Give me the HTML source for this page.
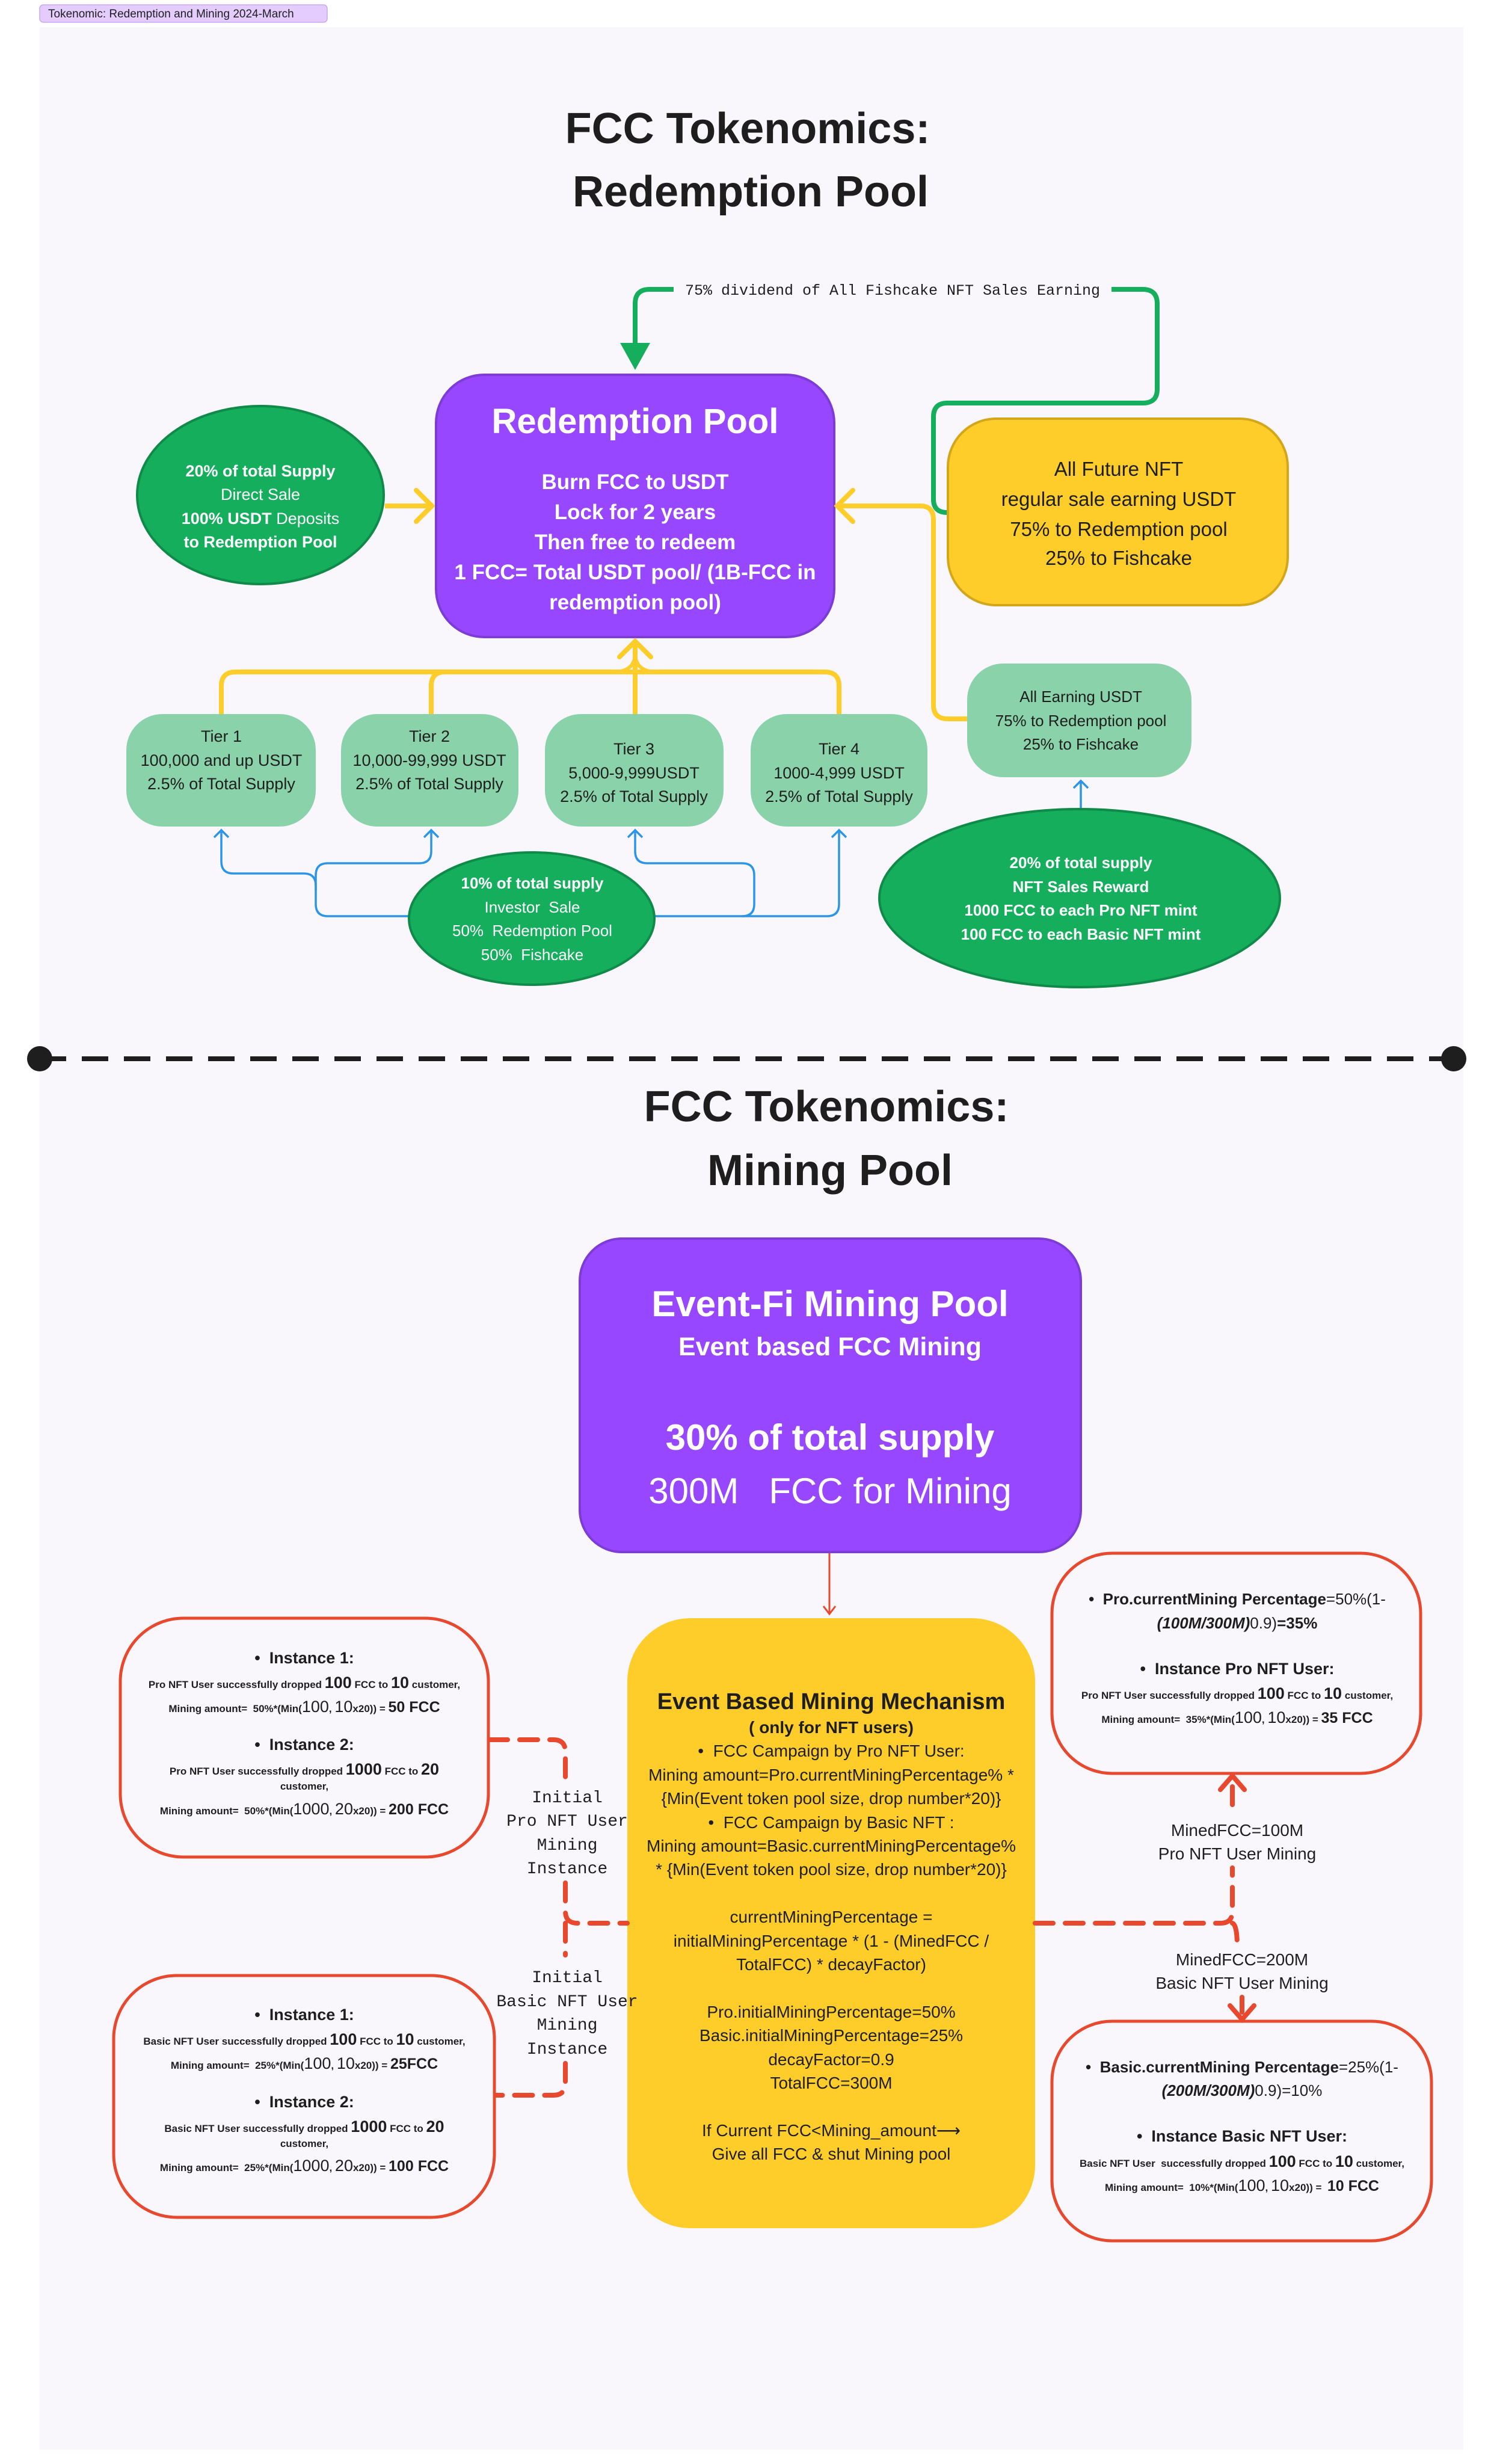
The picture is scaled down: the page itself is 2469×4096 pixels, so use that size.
<!DOCTYPE html>
<html><head><meta charset="utf-8"><style>
html,body{margin:0;padding:0;background:#fff;}
svg{display:block}
text{font-family:"Liberation Sans",sans-serif;}
.m{font-family:"Liberation Mono",monospace;}
</style></head><body>
<svg width="2469" height="4096" viewBox="0 0 2469 4096" xmlns="http://www.w3.org/2000/svg">
<defs>
<marker id="ab" markerWidth="10" markerHeight="10" refX="5" refY="1" orient="auto-start-reverse" markerUnits="userSpaceOnUse"></marker>
</defs>
<!-- tag -->
<rect x="66" y="8" width="478" height="29" rx="6" fill="#e4ccff" stroke="#c9a8f5" stroke-width="1.5"/>
<text x="80" y="29" font-size="19" fill="#1e1e1e">Tokenomic: Redemption and Mining 2024-March</text>
<!-- panel -->
<rect x="66" y="45" width="2367" height="4027" fill="#f9f7fc"/>

<!-- Title 1 -->
<text x="1243" y="238" font-size="72" font-weight="bold" text-anchor="middle" fill="#1e1e1e">FCC Tokenomics:</text>
<text x="1248" y="343" font-size="72" font-weight="bold" text-anchor="middle" fill="#1e1e1e">Redemption Pool</text>

<!-- green top loop -->
<path d="M1056 590 V505 Q1056 481 1080 481 H1900 Q1924 481 1924 505 V647 Q1924 670 1900 670 H1575 Q1552 670 1552 693 V830 Q1552 852 1575 852" fill="none" stroke="#14ae5c" stroke-width="8"/>
<polygon points="1031,570 1081,570 1056,615" fill="#14ae5c"/>
<rect x="1120" y="463" width="728" height="36" fill="#f9f7fc"/>
<text class="m" x="1484" y="490" font-size="25" text-anchor="middle" fill="#1e1e1e">75% dividend of All Fishcake NFT Sales Earning</text>

<!-- Redemption pool box -->
<rect x="725" y="623" width="662" height="436" rx="80" fill="#9747ff" stroke="#7d3cd6" stroke-width="4"/>
<text x="1056" y="720" font-size="58" font-weight="bold" text-anchor="middle" fill="#fff">Redemption Pool</text>
<g font-size="35" font-weight="bold" text-anchor="middle" fill="#fff">
<text x="1056" y="813">Burn FCC to USDT</text>
<text x="1056" y="863">Lock for 2 years</text>
<text x="1056" y="913">Then free to redeem</text>
<text x="1056" y="963">1 FCC= Total USDT pool/ (1B-FCC in</text>
<text x="1056" y="1013">redemption pool)</text>
</g>

<!-- left green ellipse -->
<ellipse cx="433" cy="823" rx="205" ry="148" fill="#14ae5c" stroke="#0f8a48" stroke-width="4"/>
<g font-size="27" text-anchor="middle" fill="#fff">
<text x="433" y="792" font-weight="bold">20% of total Supply</text>
<text x="433" y="831">Direct Sale</text>
<text x="433" y="871"><tspan font-weight="bold">100% USDT</tspan> Deposits</text>
<text x="433" y="910" font-weight="bold">to Redemption Pool</text>
</g>
<!-- yellow arrow left -->
<path d="M640 841 H715" stroke="#ffcd29" stroke-width="8" fill="none"/>
<path d="M692 815 L718 841 L692 867" stroke="#ffcd29" stroke-width="8" fill="none" stroke-linecap="round"/>

<!-- yellow right box -->
<rect x="1576" y="696" width="565" height="310" rx="80" fill="#ffcd29" stroke="#d4a619" stroke-width="4"/>
<g font-size="33" text-anchor="middle" fill="#1e1e1e">
<text x="1860" y="791">All Future NFT</text>
<text x="1860" y="841">regular sale earning USDT</text>
<text x="1860" y="891">75% to Redemption pool</text>
<text x="1860" y="939">25% to Fishcake</text>
</g>

<!-- yellow from All Earning to redemption -->
<path d="M1608 1195 H1576 Q1552 1195 1552 1172 V864 Q1552 841 1530 841 H1398" stroke="#ffcd29" stroke-width="8" fill="none"/>
<path d="M1418 815 L1392 841 L1418 867" stroke="#ffcd29" stroke-width="8" fill="none" stroke-linecap="round"/>

<!-- tiers yellow connectors -->
<path d="M368 1187 V1140 Q368 1117 392 1117 H1371 Q1395 1117 1395 1140 V1187" stroke="#ffcd29" stroke-width="8" fill="none"/>
<path d="M717 1187 V1140 Q717 1117 740 1117" stroke="#ffcd29" stroke-width="8" fill="none"/>
<path d="M1056 1187 V1070" stroke="#ffcd29" stroke-width="8" fill="none"/>
<path d="M1030 1092 L1056 1066 L1082 1092" stroke="#ffcd29" stroke-width="8" fill="none" stroke-linecap="round"/>
<path d="M1020 1117 Q1056 1117 1056 1085 Q1056 1117 1092 1117" stroke="#ffcd29" stroke-width="6" fill="none"/>

<!-- tiers -->
<g fill="#8ad3aa">
<rect x="210" y="1187" width="315" height="187" rx="60"/>
<rect x="567" y="1187" width="295" height="187" rx="60"/>
<rect x="906" y="1187" width="297" height="187" rx="60"/>
<rect x="1248" y="1187" width="294" height="187" rx="60"/>
<rect x="1608" y="1103" width="373" height="189" rx="60"/>
</g>
<g font-size="27" text-anchor="middle" fill="#1e1e1e">
<text x="368" y="1233">Tier 1</text>
<text x="368" y="1273">100,000 and up USDT</text>
<text x="368" y="1312">2.5% of Total Supply</text>
<text x="714" y="1233">Tier 2</text>
<text x="714" y="1273">10,000-99,999 USDT</text>
<text x="714" y="1312">2.5% of Total Supply</text>
<text x="1054" y="1254">Tier 3</text>
<text x="1054" y="1294">5,000-9,999USDT</text>
<text x="1054" y="1333">2.5% of Total Supply</text>
<text x="1395" y="1254">Tier 4</text>
<text x="1395" y="1294">1000-4,999 USDT</text>
<text x="1395" y="1333">2.5% of Total Supply</text>
</g>
<g font-size="26" text-anchor="middle" fill="#1e1e1e">
<text x="1797" y="1167">All Earning USDT</text>
<text x="1797" y="1207">75% to Redemption pool</text>
<text x="1797" y="1246">25% to Fishcake</text>
</g>

<!-- blue lines -->
<g stroke="#2b95e9" stroke-width="3.5" fill="none">
<path d="M680 1523 H545 Q525 1523 525 1503 V1472 Q525 1452 505 1452 H388 Q368 1452 368 1432 V1382"/>
<path d="M525 1480 V1455 Q525 1435 545 1435 H697 Q717 1435 717 1415 V1382"/>
<path d="M1088 1523 H1375 Q1395 1523 1395 1503 V1382"/>
<path d="M1234 1523 Q1254 1523 1254 1503 V1455 Q1254 1435 1234 1435 H1076 Q1056 1435 1056 1415 V1382"/>
<path d="M1797 1345 V1300"/>
<path d="M356 1392 L368 1380 L380 1392 M705 1392 L717 1380 L729 1392 M1044 1392 L1056 1380 L1068 1392 M1383 1392 L1395 1380 L1407 1392 M1785 1310 L1797 1298 L1809 1310"/>
</g>

<!-- right big ellipse -->
<ellipse cx="1795" cy="1493" rx="333" ry="148" fill="#14ae5c" stroke="#0f8a48" stroke-width="4"/>
<g font-size="26" font-weight="bold" text-anchor="middle" fill="#fff">
<text x="1797" y="1443">20% of total supply</text>
<text x="1797" y="1483">NFT Sales Reward</text>
<text x="1797" y="1522">1000 FCC to each Pro NFT mint</text>
<text x="1797" y="1562">100 FCC to each Basic NFT mint</text>
</g>
<!-- investor ellipse -->
<ellipse cx="884" cy="1527" rx="204" ry="110" fill="#14ae5c" stroke="#0f8a48" stroke-width="4"/>
<g font-size="26" text-anchor="middle" fill="#fff">
<text x="885" y="1477" font-weight="bold">10% of total supply</text>
<text x="885" y="1517">Investor&#160; Sale</text>
<text x="885" y="1556">50%&#160; Redemption Pool</text>
<text x="885" y="1596">50%&#160; Fishcake</text>
</g>

<!-- divider -->
<line x1="66" y1="1760" x2="2417" y2="1760" stroke="#1e1e1e" stroke-width="8" stroke-dasharray="44 26"/>
<circle cx="66" cy="1760" r="21" fill="#1e1e1e"/>
<circle cx="2417" cy="1760" r="21" fill="#1e1e1e"/>

<!-- Title 2 -->
<text x="1374" y="1864" font-size="72" font-weight="bold" text-anchor="middle" fill="#1e1e1e">FCC Tokenomics:</text>
<text x="1380" y="1970" font-size="72" font-weight="bold" text-anchor="middle" fill="#1e1e1e">Mining Pool</text>

<!-- Event-Fi box -->
<rect x="964" y="2059" width="833" height="521" rx="70" fill="#9747ff" stroke="#7d3cd6" stroke-width="4"/>
<g text-anchor="middle" fill="#fff">
<text x="1380" y="2188" font-size="60" font-weight="bold">Event-Fi Mining Pool</text>
<text x="1380" y="2253" font-size="43" font-weight="bold">Event based FCC Mining</text>
<text x="1380" y="2410" font-size="60" font-weight="bold">30% of total supply</text>
<text x="1380" y="2499" font-size="60">300M&#160;&#160; FCC for Mining</text>
</g>
<path d="M1379 2582 V2683 M1369 2670 L1379 2683 L1389 2670" stroke="#e8482e" stroke-width="3" fill="none"/>

<!-- Event box -->
<rect x="1043" y="2690" width="678" height="1014" rx="105" fill="#ffcd29"/>
<g text-anchor="middle" fill="#1e1e1e" font-size="28">
<text x="1382" y="2841" font-size="38" font-weight="bold">Event Based Mining Mechanism</text>
<text x="1382" y="2881" font-weight="bold">( only for NFT users)</text>
<text x="1382" y="2920">•&#160; FCC Campaign by Pro NFT User:</text>
<text x="1382" y="2960">Mining amount=Pro.currentMiningPercentage% *</text>
<text x="1382" y="2999">{Min(Event token pool size, drop number*20)}</text>
<text x="1382" y="3039">•&#160; FCC Campaign by Basic NFT :</text>
<text x="1382" y="3078">Mining amount=Basic.currentMiningPercentage%</text>
<text x="1382" y="3117">* {Min(Event token pool size, drop number*20)}</text>
<text x="1382" y="3196">currentMiningPercentage =</text>
<text x="1382" y="3236">initialMiningPercentage * (1 - (MinedFCC /</text>
<text x="1382" y="3275">TotalFCC) * decayFactor)</text>
<text x="1382" y="3354">Pro.initialMiningPercentage=50%</text>
<text x="1382" y="3393">Basic.initialMiningPercentage=25%</text>
<text x="1382" y="3433">decayFactor=0.9</text>
<text x="1382" y="3472">TotalFCC=300M</text>
<text x="1382" y="3551">If Current FCC&lt;Mining_amount⟶</text>
<text x="1382" y="3590">Give all FCC &amp; shut Mining pool</text>
</g>

<!-- instance boxes -->
<g fill="#f9f7fc" stroke="#e8482e" stroke-width="5">
<rect x="200" y="2690" width="612" height="397" rx="105"/>
<rect x="189" y="3284" width="633" height="402" rx="105"/>
<rect x="1749" y="2582" width="613" height="366" rx="100"/>
<rect x="1749" y="3360" width="631" height="365" rx="100"/>
</g>
<g text-anchor="middle" fill="#1e1e1e" font-size="17" font-weight="bold">
<text x="506" y="2765" font-size="27">•&#160; Instance 1:</text>
<text x="506" y="2806">Pro NFT User successfully dropped <tspan font-size="27">100</tspan> FCC to <tspan font-size="27">10</tspan> customer,</text>
<text x="506" y="2846">Mining amount=&#160; 50%*(Min(<tspan font-size="27" font-weight="normal">100</tspan>, <tspan font-size="27" font-weight="normal">10</tspan>x20)) = <tspan font-size="25">50 FCC</tspan></text>
<text x="506" y="2909" font-size="27">•&#160; Instance 2:</text>
<text x="506" y="2950">Pro NFT User successfully dropped <tspan font-size="27">1000</tspan> FCC to <tspan font-size="27">20</tspan></text>
<text x="506" y="2975">customer,</text>
<text x="506" y="3016">Mining amount=&#160; 50%*(Min(<tspan font-size="27" font-weight="normal">1000</tspan>, <tspan font-size="27" font-weight="normal">20</tspan>x20)) = <tspan font-size="25">200 FCC</tspan></text>

<text x="506" y="3358" font-size="27">•&#160; Instance 1:</text>
<text x="506" y="3399">Basic NFT User successfully dropped <tspan font-size="27">100</tspan> FCC to <tspan font-size="27">10</tspan> customer,</text>
<text x="506" y="3439">Mining amount=&#160; 25%*(Min(<tspan font-size="27" font-weight="normal">100</tspan>, <tspan font-size="27" font-weight="normal">10</tspan>x20)) = <tspan font-size="25">25FCC</tspan></text>
<text x="506" y="3503" font-size="27">•&#160; Instance 2:</text>
<text x="506" y="3544">Basic NFT User successfully dropped <tspan font-size="27">1000</tspan> FCC to <tspan font-size="27">20</tspan></text>
<text x="506" y="3569">customer,</text>
<text x="506" y="3609">Mining amount=&#160; 25%*(Min(<tspan font-size="27" font-weight="normal">1000</tspan>, <tspan font-size="27" font-weight="normal">20</tspan>x20)) = <tspan font-size="25">100 FCC</tspan></text>

<text x="2057" y="2667" font-size="26">•&#160; Pro.currentMining Percentage<tspan font-weight="normal">=50%(1-</tspan></text>
<text x="2057" y="2707" font-size="26"><tspan font-style="italic">(100M/300M)</tspan><tspan font-weight="normal">0.9)</tspan>=35%</text>
<text x="2057" y="2783" font-size="27">•&#160; Instance Pro NFT User:</text>
<text x="2057" y="2824">Pro NFT User successfully dropped <tspan font-size="27">100</tspan> FCC to <tspan font-size="27">10</tspan> customer,</text>
<text x="2057" y="2864">Mining amount=&#160; 35%*(Min(<tspan font-size="27" font-weight="normal">100</tspan>, <tspan font-size="27" font-weight="normal">10</tspan>x20)) = <tspan font-size="25">35 FCC</tspan></text>

<text x="2065" y="3445" font-size="26">•&#160; Basic.currentMining Percentage<tspan font-weight="normal">=25%(1-</tspan></text>
<text x="2065" y="3484" font-size="26"><tspan font-style="italic">(200M/300M)</tspan><tspan font-weight="normal">0.9)=10%</tspan></text>
<text x="2065" y="3560" font-size="27">•&#160; Instance Basic NFT User:</text>
<text x="2065" y="3602">Basic NFT User&#160; successfully dropped <tspan font-size="27">100</tspan> FCC to <tspan font-size="27">10</tspan> customer,</text>
<text x="2065" y="3642">Mining amount=&#160; 10%*(Min(<tspan font-size="27" font-weight="normal">100</tspan>, <tspan font-size="27" font-weight="normal">10</tspan>x20)) =&#160; <tspan font-size="25">10 FCC</tspan></text>
</g>

<!-- dashed connectors -->
<g stroke="#e8482e" stroke-width="8" fill="none" stroke-dasharray="30 20" stroke-linecap="round">
<path d="M814 2892 H920 Q940 2892 940 2912 V2955"/>
<path d="M940 3130 V3177 Q940 3197 960 3197 H1043"/>
<path d="M940 3197 V3250"/>
<path d="M940 3430 V3463 Q940 3483 920 3483 H824"/>
<path d="M1721 3197 H2029 Q2049 3197 2049 3177 V3105"/>
<path d="M2049 3000 V2958"/>
<path d="M2049 3197 Q2057 3200 2057 3236"/>
<path d="M2065 3320 V3345"/>
</g>
<path d="M2029 2975 L2049 2952 L2069 2975" stroke="#e8482e" stroke-width="8" fill="none" stroke-linecap="round"/>
<path d="M2045 3334 L2065 3357 L2085 3334" stroke="#e8482e" stroke-width="8" fill="none" stroke-linecap="round"/>

<g class="m" font-size="28" text-anchor="middle" fill="#1e1e1e">
<text class="m" x="943" y="2996">Initial</text>
<text class="m" x="943" y="3035">Pro NFT User</text>
<text class="m" x="943" y="3075">Mining</text>
<text class="m" x="943" y="3114">Instance</text>
<text class="m" x="943" y="3295">Initial</text>
<text class="m" x="943" y="3335">Basic NFT User</text>
<text class="m" x="943" y="3374">Mining</text>
<text class="m" x="943" y="3414">Instance</text>
</g>
<g font-size="28" text-anchor="middle" fill="#1e1e1e">
<text x="2057" y="3052">MinedFCC=100M</text>
<text x="2057" y="3091">Pro NFT User Mining</text>
<text x="2065" y="3267">MinedFCC=200M</text>
<text x="2065" y="3306">Basic NFT User Mining</text>
</g>
</svg>
</body></html>
